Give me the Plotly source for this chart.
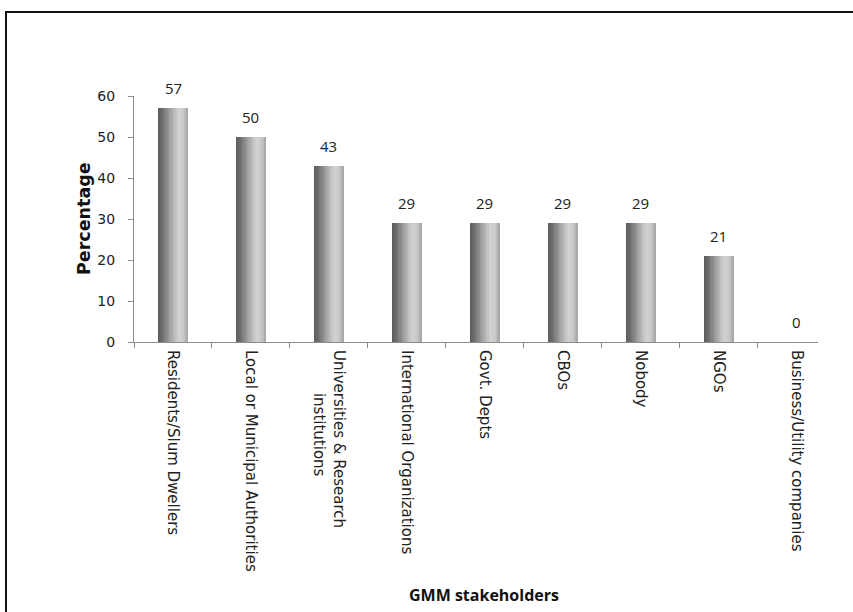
import plotly.graph_objects as go

categories = [
    "Residents/Slum Dwellers",
    "Local or Municipal Authorities",
    "Universities & Research<br>" + "\u00a0" * 9 + "institutions",
    "International Organizations",
    "Govt. Depts",
    "CBOs",
    "Nobody",
    "NGOs",
    "Business/Utility companies",
]
values = [57, 50, 43, 29, 29, 29, 29, 21, 0]
y_ticks = [0, 10, 20, 30, 40, 50, 60]

W, H = 853, 612
L, R, T, B = 134, 35, 96, 270
pw, ph = W - L - R, H - T - B

def px_x(p):
    return (p - L) / pw

def px_y(p):
    return (H - B - p) / ph

# cylinder-like grey gradient (left dark -> light -> slightly darker right)
stops = [(0.0, 90), (0.15, 110), (0.45, 170), (0.68, 210), (0.85, 200), (1.0, 165)]

def grey_at(t):
    for (t0, g0), (t1, g1) in zip(stops[:-1], stops[1:]):
        if t0 <= t <= t1:
            g = g0 + (g1 - g0) * (t - t0) / (t1 - t0)
            g = int(round(g))
            return f"rgb({g},{g},{g})"
    g = stops[-1][1]
    return f"rgb({g},{g},{g})"

bw = 0.385
N = 24
fig = go.Figure()
for i in range(N):
    off = -bw / 2 + i * bw / N
    fig.add_trace(go.Bar(
        x=categories, y=values,
        offset=off, width=bw - i * bw / N,
        marker=dict(color=grey_at((i + 0.5) / N), line=dict(width=0)),
        showlegend=False, hoverinfo="skip" if i else "x+y",
    ))

for c, v in zip(categories, values):
    fig.add_annotation(x=c, y=v, text=str(v), showarrow=False, yshift=20,
                       font=dict(family="Open Sans", size=15, color="#222"))

fig.add_annotation(xref="paper", yref="paper", x=px_x(84), y=0.5, text="<b>Percentage</b>",
                   textangle=-90, showarrow=False, xanchor="center", yanchor="middle",
                   font=dict(family="DejaVu Sans", size=17.5, color="#111"))
fig.add_annotation(xref="paper", yref="paper", x=px_x(484), y=px_y(595), text="<b>GMM stakeholders</b>",
                   showarrow=False, xanchor="center", yanchor="middle",
                   font=dict(family="Open Sans", size=16, color="#111"))

fig.add_shape(type="rect", xref="paper", yref="paper",
              x0=px_x(6), x1=px_x(870), y0=px_y(630), y1=px_y(12),
              line=dict(color="#111", width=2), fillcolor="rgba(0,0,0,0)", layer="below")

fig.update_layout(
    width=W, height=H,
    margin=dict(l=L, r=R, t=T, b=B, pad=0),
    barmode="overlay", bargap=0,
    plot_bgcolor="white", paper_bgcolor="white",
    xaxis=dict(
        type="category", range=[-0.5, 8.27], tickangle=90,
        showline=True, linecolor="#8c8c8c", linewidth=1,
        ticks="outside", ticklen=5, tickcolor="#8c8c8c", tickson="boundaries",
        showgrid=False, zeroline=False, ticklabelstandoff=4,
        tickfont=dict(family="DejaVu Sans", size=15, color="#222"),
    ),
    yaxis=dict(
        range=[0, 60], tickvals=y_ticks,
        showline=True, linecolor="#8c8c8c", linewidth=1,
        ticks="outside", ticklen=5, tickcolor="#8c8c8c",
        showgrid=False, zeroline=False, ticklabelstandoff=10,
        tickfont=dict(family="DejaVu Sans", size=14, color="#222"),
    ),
)

fig.write_html("out.html")
